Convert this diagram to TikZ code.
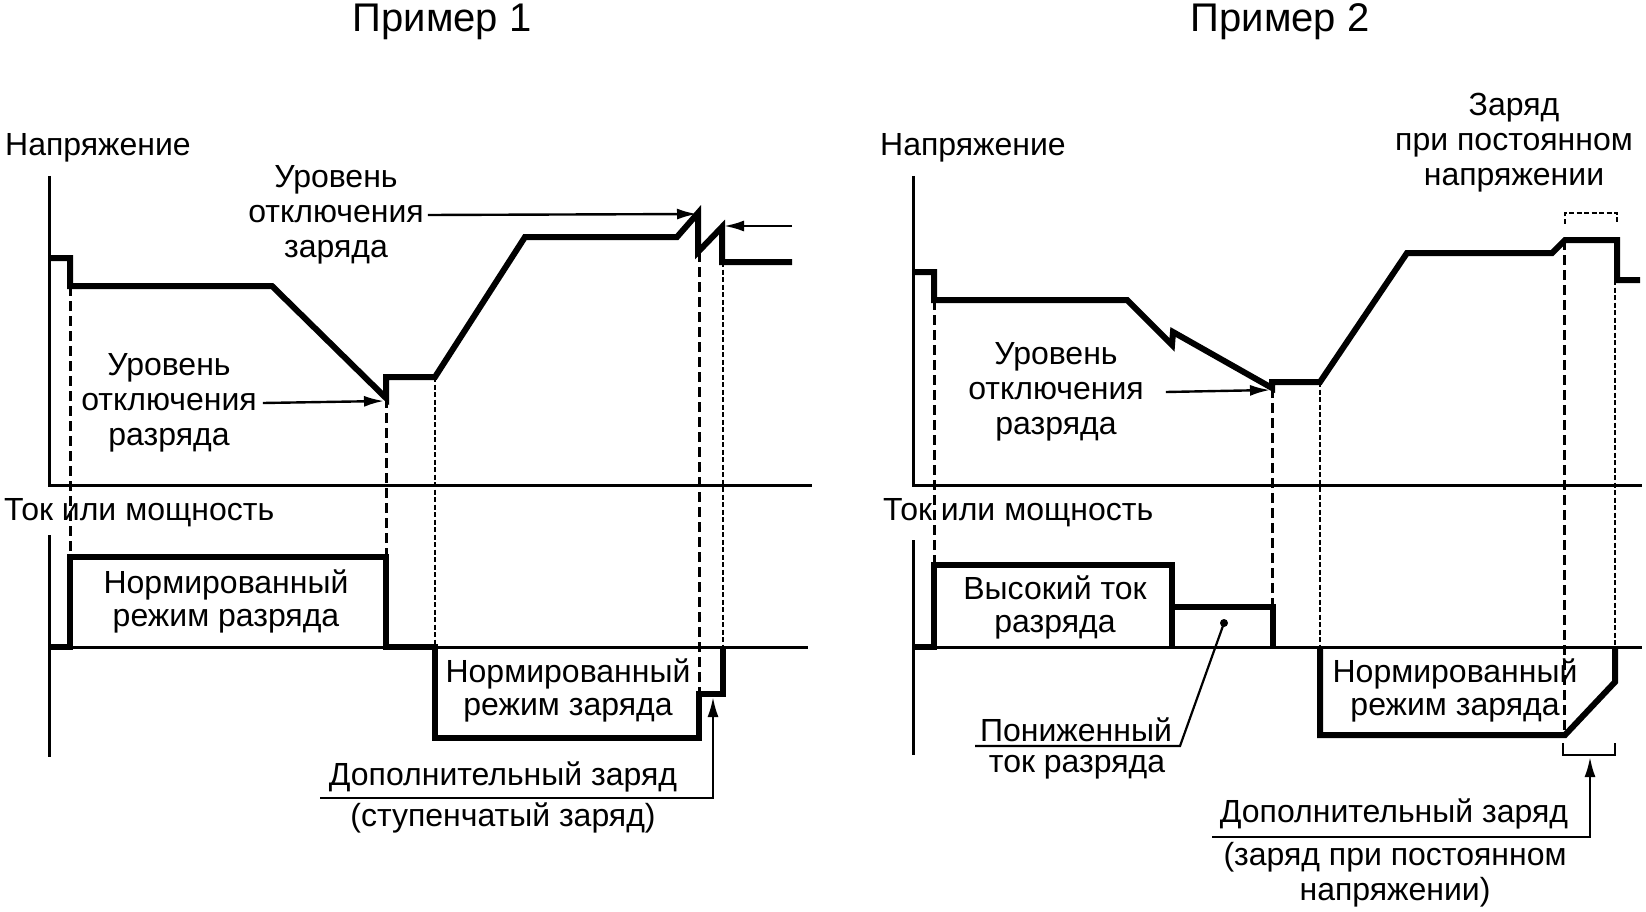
\documentclass[tikz,border=0pt]{standalone}
\usepackage{fontspec}
\setmainfont{Liberation Sans}
\usetikzlibrary{arrows.meta}
\begin{document}
\begin{tikzpicture}[x=1pt,y=-1pt,
  curve/.style={line width=6pt, line join=miter},
  axis/.style={line width=3pt},
  dashA/.style={line width=3pt, dash pattern=on 10pt off 5pt},
  dashB/.style={line width=2.6pt, dash pattern=on 5pt off 2.5pt},
  lbl/.style={font=\fontsize{32}{35}\selectfont, align=center, inner sep=0pt},
  lbltight/.style={font=\fontsize{32}{33}\selectfont, align=center, inner sep=0pt},
  ttl/.style={font=\fontsize{40}{48}\selectfont, inner sep=0pt},
  ptr/.style={line width=2.4pt, -{Latex[length=20pt,width=11pt]}},
  lead/.style={line width=2.2pt}
]
\useasboundingbox (0,0) rectangle (1646,912);

% ---------- titles ----------
\node[ttl] (t1) at (442,22) {Пример 1};
\node[ttl] (t2) at (1280,22) {Пример 2};

% ================= Example 1 =================
\node[lbl,anchor=west] (v1) at (5,148) {Напряжение};
\node[lbl,anchor=west] (i1) at (4,513) {Ток или мощность};

\draw[axis] (49,176) -- (49,485) -- (812,485);
\draw[axis] (49,535) -- (49,757);
\draw[axis] (49,647) -- (808,647);

% dashed guides
\draw[dashA] (70,286) -- (70,557);
\draw[dashA] (386,398) -- (386,557);
\draw[dashB] (435,377) -- (435,647);
\draw[dashA] (699,252) -- (699,694);
\draw[dashB] (723,262) -- (723,647);

% voltage
\draw[curve] (49,258) -- (70,258) -- (70,286) -- (272,286) -- (386,398) -- (386,377)
  -- (435,377) -- (525,237) -- (677,237) -- (698,213) -- (698,252) -- (722,227)
  -- (722,262) -- (792,262);
% current
\draw[curve] (49,647) -- (70,647) -- (70,557) -- (386,557) -- (386,647) -- (435,647)
  -- (435,738) -- (699,738) -- (699,694) -- (723,694) -- (723,647);

% labels
\node[lbl] (uz) at (336,215) {Уровень\\отключения\\заряда};
\coordinate (pz1) at (697,214);
\draw[ptr] ([xshift=4pt]uz.east) -- (pz1);
\coordinate (pz2s) at (792,226);
\coordinate (pz2) at (724,226);
\draw[ptr] (pz2s) -- (pz2);

\node[lbl] (ur1) at (169,403) {Уровень\\отключения\\разряда};
\coordinate (pr1) at (384,401);
\draw[ptr] ([xshift=6pt]ur1.east) -- (pr1);

\node[lbltight] (nr1) at (226,601) {Нормированный\\режим разряда};
\node[lbltight] (nz1) at (568,690) {Нормированный\\режим заряда};

\node[lbl] (dz1) at (503,777) {Дополнительный заряд};
\node[lbl] (sz1) at (503,818) {(ступенчатый заряд)};
\coordinate (u1a) at (320,798);
\coordinate (u1b) at (713,798);
\coordinate (s1) at (713,697);
\draw[ptr] (u1a) -- (u1b) -- (s1);

% ================= Example 2 =================
\node[lbl,anchor=west] (v2) at (880,148) {Напряжение};
\node[lbl,anchor=west] (i2) at (883,513) {Ток или мощность};

\draw[axis] (913,176) -- (913,485) -- (1642,485);
\draw[axis] (913,540) -- (913,755);
\draw[axis] (913,647) -- (1642,647);

% dashed guides
\draw[dashA] (934,300) -- (934,565);
\draw[dashA] (1272,388) -- (1272,607);
\draw[dashB] (1320,382) -- (1320,647);
\draw[dashA] (1564,240) -- (1564,735);
\draw[dashB] (1615,280) -- (1615,647);

% voltage
\draw[curve] (913,272) -- (934,272) -- (934,300) -- (1127,300) -- (1172,345) -- (1173,332)
  -- (1272,388) -- (1272,382) -- (1320,382) -- (1407,253) -- (1552,253) -- (1565,240)
  -- (1617,240) -- (1617,280) -- (1640,280);
% current
\draw[curve] (913,647) -- (934,647) -- (934,565) -- (1172,565) -- (1172,647);
\draw[curve] (1172,607) -- (1273,607) -- (1273,647);
\draw[curve] (1320,647) -- (1320,735) -- (1565,735) -- (1615,682) -- (1615,647);

% brackets
\draw[dashB] (1565,224) -- (1565,213) -- (1617,213) -- (1617,224);
\draw[lead] (1563,743) -- (1563,755) -- (1615,755) -- (1615,743);

% labels
\node[lbl] (zp) at (1514,143) {Заряд\\при постоянном\\напряжении};

\node[lbl] (ur2) at (1056,392) {Уровень\\отключения\\разряда};
\coordinate (pr2) at (1270,390);
\draw[ptr] ([xshift=22pt]ur2.east) -- (pr2);

\node[lbltight] (vt) at (1055,607) {Высокий ток\\разряда};
\node[lbl] (pn) at (1076,730) {Пониженный};
\node[lbl] (tr) at (1077,767) {ток разряда};
\coordinate (pna) at (975,746);
\coordinate (pnb) at (1180,746);
\coordinate (pdot) at (1224,623);
\draw[lead] (pna) -- (pnb) -- (pdot);
\fill (pdot) circle (4pt);

\node[lbltight] (nz2) at (1455,690) {Нормированный\\режим заряда};

\node[lbl] (dz2) at (1394,814) {Дополнительный заряд};
\node[lbl] (zn) at (1395,875) {(заряд при постоянном\\напряжении)};
\coordinate (u2a) at (1212,837);
\coordinate (u2b) at (1590,837);
\coordinate (s2) at (1590,757);
\draw[ptr] (u2a) -- (u2b) -- (s2);
\end{tikzpicture}
\end{document}
